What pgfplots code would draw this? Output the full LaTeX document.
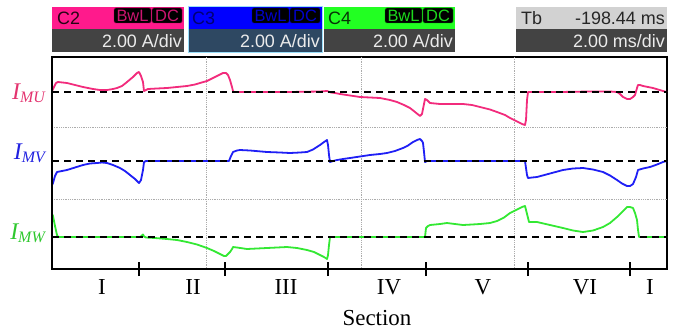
\documentclass[border=0pt]{standalone}
\usepackage{fontspec}
\setmainfont{Liberation Serif}
\newfontfamily\hdr{Liberation Sans}
\usepackage{pgfplots}
\pgfplotsset{compat=1.18}

% trace and header colours
\definecolor{chU}{HTML}{F22B7C}
\definecolor{chV}{HTML}{1F1FF5}
\definecolor{chW}{HTML}{33E833}
\definecolor{hdrU}{HTML}{FF1A8C}
\definecolor{hdrV}{HTML}{0000FF}
\definecolor{hdrW}{HTML}{22FF22}
\definecolor{labU}{HTML}{E3336F}
\definecolor{labV}{HTML}{2020E0}
\definecolor{labW}{HTML}{2EC82E}
\definecolor{rowgray}{HTML}{434343}
\definecolor{rowsel}{HTML}{2E4862}
\definecolor{tbgray}{HTML}{D2D2D2}

% current traces, screen units (x: time, y: vertical position, downward)
\pgfplotstableread{
x y
52 91
53 89
56 83
58 82
67 83
75 85
83 87
93 89
100 90
107 90
113 89
117 88
122 86
127 82
133 77
137 73
139 72
141 76
143 82
144 91
146 90
148 89
157 88.5
167 88
177 87
187 86
195 84.5
200 83
207 81
213 78
218 75.5
223 73
226 73
228 75
230 80
232 87
233 91
234 92
260 92
290 92
320 91.5
327 91
331 92.5
335 93
340 94
350 95.5
360 97
370 97.5
380 98
390 100
397 102
404 105
410 108
415 112
420 116
422 114
424 104
425 99
427 100
430 103
440 104
447 104
455 104
463 104
472 105
480 107
490 109.5
497 112
505 115
510 118
516 121
522 124
525 125
526 120
527 100
528 92
560 92
590 91.5
610 91.5
617 92
620 94
623 97
627 99
630 99
633 97
635 95
637 88
638 85
640 85
643 86
648 87
653 88
658 89.5
663 91
667 92
}\traceU

\pgfplotstableread{
x y
52 185
53 183
55 176
57 172
62 171
67 170
75 167.5
83 165
90 163.5
97 163
102 162.5
107 163
113 165
120 168
125 171
130 175
135 179
139 183
141 180
143 170
144 162
146 161
190 161
229 161
231 156
233 152
237 150.5
240 150
250 150.5
267 152
280 152.5
290 153
300 152.5
307 152
313 149.5
320 145
324 142
327 140
328 145
329 155
330 162
333 161
337 160
343 159
350 158
360 156.5
370 155
380 154
387 153
395 151
403 148
408 145.5
413 142
417 140
420 139
422 141
423 143
424 152
425 162
427 161
470 161
525 161
526 168
527 175
528 178
532 177.5
537 177
550 173.5
563 170
573 168.5
583 168
593 169.5
603 172
610 175.5
617 180
622 183.5
627 186
630 186
633 184
636 177
638 170
643 168.5
650 167
657 164.5
663 162
667 161
}\traceV

\pgfplotstableread{
x y
52 214
53 216
55 226
57 235
58 237
100 237
140 237
142 235.5
143 234.5
144 236.5
146 237.5
155 238
167 239
177 240
187 242
197 244.5
207 248
214 251
220 254
224 256
226 256
228 254
230 252
232 249
233 247
237 247.5
247 249
257 248.5
267 248
277 247.5
287 247
297 248
307 250
314 252
320 255
324 257
327 259
328 255
329 245
330 237
380 237
425 237
426 228
428 226
430 225
440 224
447 223
455 224
463 225
472 224.5
480 224
490 223
497 221
504 217.5
510 213
516 210
522 207
525 206
526 210
528 218
529 222
537 222
550 225
563 228
573 230.5
583 232
593 230.5
603 227
610 223
617 217
622 212
627 207
630 207
633 208
635 213
637 220
638 230
639 237
667 237
}\traceW

\begin{document}
\begin{tikzpicture}[x=1bp,y=1bp]
\path[use as bounding box] (0,0) rectangle (673,330);

% ---- channel header boxes ----
\tikzset{hdrtxt/.style={inner sep=0pt, font=\hdr\fontsize{18}{18}\selectfont},
         tagtxt/.style={inner sep=0pt, font=\hdr\fontsize{16.5}{16.5}\selectfont}}
% C2
\fill[hdrU] (52,301) rectangle (184,323);
\fill[rowgray] (52,278) rectangle (184,301);
\node[hdrtxt, anchor=base west, text=black!85!hdrU] at (57,306) {C2};
\draw[fill=black, draw=hdrU!50!black, rounded corners=1.5bp] (114,307) rectangle (151,322);
\draw[fill=black, draw=hdrU!50!black, rounded corners=1.5bp] (152,307) rectangle (182,322);
\node[tagtxt, text=hdrU!80!black] at (132.5,314.5) {BwL};
\node[tagtxt, text=hdrU!80!black] at (167,314.5) {DC};
\node[hdrtxt, anchor=base east, text=white!92!black] at (182,283) {2.00 A/div};
% C3 (selected)
\fill[hdrV] (188,301) rectangle (322,323);
\fill[rowsel] (188,278) rectangle (322,301);
\draw[cyan!40!white, line width=1bp] (188,278) rectangle (322,323);
\node[hdrtxt, anchor=base west, text=blue!45!black] at (192,306) {C3};
\draw[fill=black, draw=hdrV!50!black, rounded corners=1.5bp] (252,307) rectangle (289,322);
\draw[fill=black, draw=hdrV!50!black, rounded corners=1.5bp] (290,307) rectangle (320,322);
\node[tagtxt, text=hdrV!80!black] at (270.5,314.5) {BwL};
\node[tagtxt, text=hdrV!80!black] at (305,314.5) {DC};
\node[hdrtxt, anchor=base east, text=white!92!black] at (320,283) {2.00 A/div};
% C4
\fill[hdrW] (324,301) rectangle (455,323);
\fill[rowgray] (324,278) rectangle (455,301);
\node[hdrtxt, anchor=base west, text=black!80!hdrW] at (328,306) {C4};
\draw[fill=black, draw=hdrW!50!black, rounded corners=1.5bp] (385,307) rectangle (422,322);
\draw[fill=black, draw=hdrW!50!black, rounded corners=1.5bp] (423,307) rectangle (453,322);
\node[tagtxt, text=hdrW!85!black] at (403.5,314.5) {BwL};
\node[tagtxt, text=hdrW!85!black] at (438,314.5) {DC};
\node[hdrtxt, anchor=base east, text=white!92!black] at (453,283) {2.00 A/div};
% time base
\fill[tbgray] (516,301) rectangle (667,323);
\fill[rowgray] (516,278) rectangle (667,301);
\node[hdrtxt, anchor=base west, text=black!85] at (521,306) {Tb};
\node[hdrtxt, anchor=base east, text=black!85] at (665,306) {-198.44 ms};
\node[hdrtxt, anchor=base east, text=white!92!black] at (665,283) {2.00 ms/div};

% ---- waveform area ----
\begin{axis}[
  at={(52bp,61bp)}, anchor=south west,
  scale only axis, width=615bp, height=212bp,
  xmin=52, xmax=667, ymin=57, ymax=269, y dir=reverse,
  axis line style={black, line width=1.3bp},
  xtick={139,225,328,426,528,630}, xticklabels={},
  xtick pos=lower, ytick=\empty,
  tick align=center, major tick length=14bp,
  tick style={black, line width=1.3bp},
  clip=false,
]
% graticule
\draw[gray!65, densely dotted, line width=0.8bp]
  (axis cs:206,57) -- (axis cs:206,269)
  (axis cs:361,57) -- (axis cs:361,269)
  (axis cs:514,57) -- (axis cs:514,269)
  (axis cs:52,127) -- (axis cs:667,127)
  (axis cs:52,199) -- (axis cs:667,199);

\addplot[chU, line width=1.8bp, line join=round] table {\traceU};
\addplot[chV, line width=1.8bp, line join=round] table {\traceV};
\addplot[chW, line width=1.8bp, line join=round] table {\traceW};

% zero levels
\draw[black, line width=1.4bp, dash pattern=on 7bp off 5bp]
  (axis cs:52,92) -- (axis cs:667,92)
  (axis cs:52,161) -- (axis cs:667,161)
  (axis cs:52,237) -- (axis cs:667,237);

% heavier left and bottom edges
\draw[black, line width=2.2bp] (axis cs:52,57) -- (axis cs:52,269) -- (axis cs:667,269);
\end{axis}

% ---- trace labels ----
\newcommand{\Ilab}[1]{{\fontsize{24}{24}\selectfont\itshape I}{\fontsize{16}{16}\selectfont\itshape\raisebox{-3bp}{#1}}}
\node[anchor=base east, inner sep=0pt, text=labU] at (45,231) {\Ilab{MU}};
\node[anchor=base east, inner sep=0pt, text=labV] at (45,171) {\Ilab{MV}};
\node[anchor=base east, inner sep=0pt, text=labW] at (45,91) {\Ilab{MW}};

% ---- section labels ----
\tikzset{sec/.style={inner sep=0pt, font=\fontsize{23}{23}\selectfont}}
\node[sec] at (102,43) {I};
\node[sec] at (193,43) {II};
\node[sec] at (286,43) {III};
\node[sec] at (389,43) {IV};
\node[sec] at (483,43) {V};
\node[sec] at (585,43) {VI};
\node[sec] at (650,43) {I};
\node[sec] at (377,12) {Section};
\end{tikzpicture}
\end{document}
